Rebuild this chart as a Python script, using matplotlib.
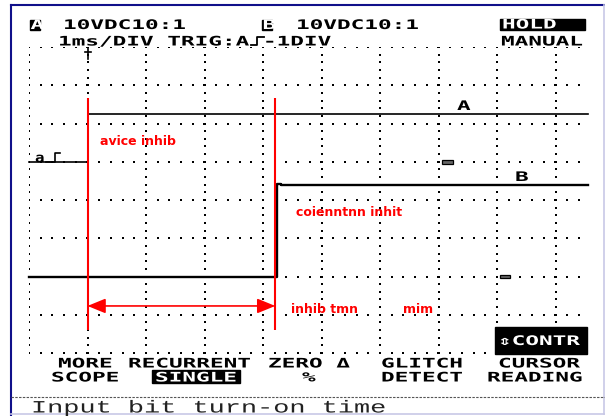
import numpy as np
import matplotlib
matplotlib.use('Agg')
import matplotlib.pyplot as plt
from matplotlib import patheffects
from matplotlib.patches import Rectangle
from matplotlib.transforms import Affine2D

#####################
# SCOPE SETTINGS
#####################
volts_per_div = 10.0
t_left, t_right = -1.0, 8.5      # 1 ms/div, trigger at -1 DIV
n_rows = 8

# channel A = input, channel B = output (ground level in divisions from bottom)
a_zero = 5
b_zero = 2
a_t = [-1.0, 0.0, 8.55]
a_v = [0.0, 12.5, 12.5]
b_t = [-1.0, 3.24, 3.3, 8.55]
b_v = [0.0, 24.3, 23.8, 23.8]

# ground markers (ms)
a_gnd_t = 6.06
b_gnd_t = 7.05

# cursors (ms) and their vertical extent (div)
cursor_t = [0.0, 3.21]
cursor_span = [0.6, 6.67]
arrow_div = 1.23

menu_top = ['MORE', 'RECURRENT', 'ZERO Δ', 'GLITCH', 'CURSOR']
menu_bot = ['SCOPE', 'SINGLE', '%', 'DETECT', 'READING']


class Stretch(patheffects.AbstractPathEffect):
    """Widen glyphs around the text baseline origin (LCD character cell)."""
    def __init__(self, sx):
        super().__init__()
        self.sx = sx

    def draw_path(self, renderer, gc, tpath, affine, rgbFace=None):
        renderer.draw_path(gc, tpath, Affine2D().scale(self.sx, 1.0) + affine, rgbFace)


W, H = 605, 416
fig = plt.figure(figsize=(W / 100, H / 100), dpi=100)
fig.patch.set_facecolor('white')

# screen area of the scope, pixel bounds of the graticule
gx0, gx1, gy0, gy1 = 29, 584.75, 47, 353
ax = fig.add_axes([gx0 / W, 1 - gy1 / H, (gx1 - gx0) / W, (gy1 - gy0) / H])
ax.set_xlim(t_left, t_right)
ax.set_ylim(0, n_rows)
ax.axis('off')

# overlay in pixel units for the screen furniture
ov = fig.add_axes([0, 0, 1, 1], zorder=5)
ov.set_xlim(0, W)
ov.set_ylim(H, 0)
ov.axis('off')
ov.patch.set_alpha(0)

# dotted graticule
tx = np.arange(t_left, 8.41, 0.2)
for r in range(n_rows + 1):
    ax.plot(tx, np.full_like(tx, r), ls='none', marker='s', ms=1.6, mew=0, color='k')
ty = np.arange(0, n_rows + 0.01, 0.2)
for c in range(-1, 9):
    ax.plot(np.full_like(ty, c), ty, ls='none', marker='s', ms=1.6, mew=0, color='k')

# traces
ax.plot(a_t, a_zero + np.array(a_v) / volts_per_div, drawstyle='steps-post',
        color='k', lw=1.2, clip_on=False, zorder=3)
ax.plot(b_t, b_zero + np.array(b_v) / volts_per_div, drawstyle='steps-post',
        color='k', lw=1.7, clip_on=False, zorder=3)

# ground level markers
for t0, z in [(a_gnd_t, a_zero), (b_gnd_t, b_zero)]:
    ax.add_patch(Rectangle((t0, z - 0.05), 0.18, 0.1, fc='#666666', ec='k', lw=0.9, zorder=3))

# cursors + time span arrow
ax.vlines(cursor_t, cursor_span[0], cursor_span[1], color='red', lw=1.5, zorder=4)
ax.annotate('', xy=(cursor_t[1], arrow_div), xytext=(cursor_t[0], arrow_div),
            arrowprops=dict(arrowstyle='<|-|>,head_length=1.1,head_width=0.45',
                            color='red', lw=1.2, mutation_scale=10,
                            shrinkA=0, shrinkB=0), zorder=4)


LCD = dict(family=['DejaVu Sans Mono', 'DejaVu Sans'], size=9.5, weight='bold',
           ha='left', va='baseline')


def lcd(x, y, s, color='black', sx=1.72):
    ov.text(x, y, s, color=color, path_effects=[Stretch(sx)], **LCD)


def lcd_box(x, y, w, h, s, tx, ty):
    ov.add_patch(Rectangle((x, y), w, h, color='black'))
    lcd(tx, ty, s, color='white')


# header
lcd_box(30, 20, 9.5, 10, 'A', 30.5, 29)
lcd(63, 29, '10VDC10:1')
lcd_box(262, 20, 10, 10, 'B', 262.5, 29)
lcd(296, 29, '10VDC10:1')
lcd_box(500, 18.5, 85, 11.5, 'HOLD', 502, 28.5)
lcd(58, 45.5, '1ms/DIV TRIG:A -1DIV')
ov.plot([251, 257, 257, 264], [45, 45, 37, 37], color='k', lw=1.3)
lcd(501, 45.5, 'MANUAL')

# trigger point marker
ov.plot([87.5, 87.5], [48, 59], color='k', lw=1.2)
ov.plot([84.5, 90.5], [51.5, 51.5], color='k', lw=1.2)

# channel A trigger level marker
lcd(35, 162, 'a', sx=1.2)
ov.plot([46, 55, 55, 60], [162, 162, 153, 153], color='k', lw=1.2)

# channel labels
lcd(457, 110, 'A')
lcd(515, 181, 'B')

# red annotations
RED = dict(color='red', family='DejaVu Sans', weight='bold', size=9, ha='left', va='baseline')
ov.text(100, 145, 'avice inhib', **RED)
ov.text(296, 216, 'coienntnn inhit', **RED)
ov.text(291, 313, 'inhib tmn', **RED)
ov.text(403, 313, 'mim', **RED)

# soft key box
lcd_box(495, 327, 92, 27, '⇕CONTR', 498, 345)

# soft key menu
top_x = [58, 128, 268, 381, 498]
bot_x = [51, 155, 302, 381, 487]
for s, x in zip(menu_top, top_x):
    lcd(x, 367.5, s)
ov.add_patch(Rectangle((152, 370), 88, 12.5, color='black'))
for s, x in zip(menu_bot, bot_x):
    lcd(x, 381.5, s, color='white' if s == 'SINGLE' else 'black')

# frame and caption bar
ov.plot([11, 11], [4.5, 416], color='#10108a', lw=1.5)
ov.plot([11, 605], [4.5, 4.5], color='#10108a', lw=1.5)
ov.plot([603.5, 603.5], [4.5, 413.5], color='#c8c8e6', lw=1.2)
ov.plot([11, 605], [413.5, 413.5], color='#c8c8e6', lw=1.2)
ov.plot([11, 605], [397, 397], color='#555555', lw=0.8, dashes=(2.2, 1.2))
ov.text(31, 412.5, 'Input bit turn-on time', family='Liberation Mono', size=12.5,
        color='#222222', ha='left', va='baseline', path_effects=[Stretch(1.55)])

fig.savefig('out.png', dpi=100)
